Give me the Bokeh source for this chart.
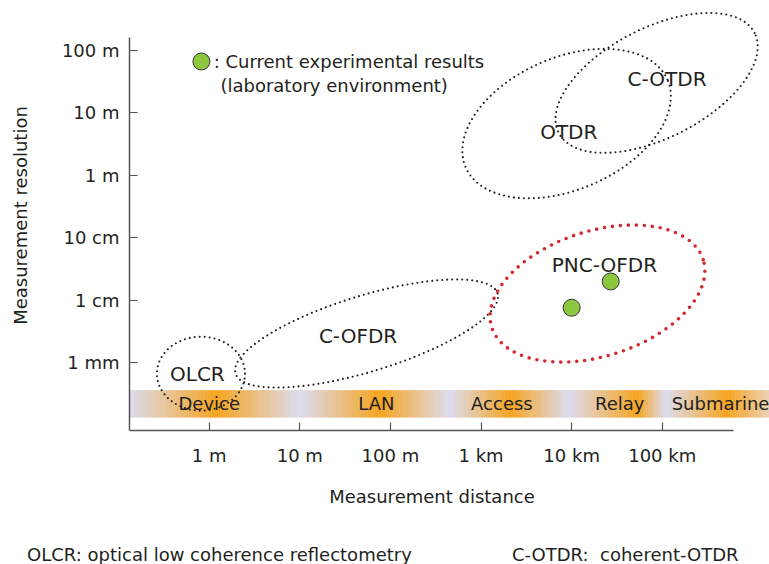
import numpy as np
from bokeh.plotting import figure
from bokeh.models import Range1d, FixedTicker, Div
from bokeh.layouts import column
from bokeh.core.properties import value
from bokeh.embed import file_html
from bokeh.resources import INLINE

# ---------------- data ----------------
X_TICKS = [1, 10, 100, 1e3, 1e4, 1e5]
X_TICK_LABELS = ["1 m", "10 m", "100 m", "1 km", "10 km", "100 km"]
Y_TICKS = [1e-3, 1e-2, 1e-1, 1, 10, 100]
Y_TICK_LABELS = ["1 mm", "1 cm", "10 cm", "1 m", "10 m", "100 m"]

BAND_CATEGORIES = ["Device", "LAN", "Access", "Relay", "Submarine"]
BAND_CATEGORY_DISTANCE = [1.0, 70, 1700, 34000, 440000]

TECH_NAMES = ["OLCR", "C-OFDR", "PNC-OFDR", "OTDR", "C-OTDR"]
TECH_CENTER_DISTANCE = [0.81, 54.5, 19300, 8800, 86700]
TECH_CENTER_RESOLUTION = [6.7e-4, 2.94e-3, 1.28e-2, 6.7, 30]
TECH_HALF_MAJOR_DEC = [0.486, 1.512, 1.225, 1.214, 1.214]
TECH_HALF_MINOR_DEC = [0.408, 0.419, 0.690, 0.728, 0.607]
TECH_TILT_DEG = [0, 17, 17.8, 23.5, 27]
TECH_LABEL_DISTANCE = [0.74, 43.9, 23000, 9300, 113000]
TECH_LABEL_RESOLUTION = [6.5e-4, 2.7e-3, 3.7e-2, 5.0, 34]
TECH_HIGHLIGHT = [False, False, True, False, False]

RESULT_DISTANCE = [10000, 27000]
RESULT_RESOLUTION = [0.0076, 0.020]

LEGEND_TEXT = [": Current experimental results", "(laboratory environment)"]
X_LABEL = "Measurement distance"
Y_LABEL = "Measurement resolution"
FOOTNOTES = ["OLCR: optical low coherence reflectometry", "C-OTDR:&nbsp; coherent-OTDR"]

# ---------------- style / layout ----------------
FONT = "DejaVu Sans"
TXT = "#231F20"
AX = "#555555"
GREEN = "#8DC63F"
RED = "#D7262E"
ORANGE = (246, 163, 28)
LAVENDER = (220, 220, 240)
END_PEACH = (236, 208, 182)

W, H = 769, 475
MB_L, MB_R, MB_T, MB_B = 129, 0, 0, 45
X_DEC = (-0.880, 6.184)
Y_DEC = (-4.083, 2.795)
X_AXIS_END_DEC = 5.784
Y_AXIS_END_DEC = 2.203
ASPECT = ((W - MB_L - MB_R) / (X_DEC[1] - X_DEC[0])) / ((H - MB_T - MB_B) / (Y_DEC[1] - Y_DEC[0]))

p = figure(width=W, height=H, x_axis_type="log", y_axis_type="log",
           x_range=Range1d(10 ** X_DEC[0], 10 ** X_DEC[1]),
           y_range=Range1d(10 ** Y_DEC[0], 10 ** Y_DEC[1]),
           output_backend="svg", toolbar_location=None,
           min_border_left=MB_L, min_border_right=MB_R,
           min_border_top=MB_T, min_border_bottom=MB_B)
p.grid.visible = False
p.outline_line_color = None
p.background_fill_color = "white"
p.border_fill_color = "white"

# ---- band (gradient) ----
BAND_TOP_DEC, BAND_BOT_DEC = -3.443, -3.870
stops_dec = [X_DEC[0], 0.09, 1.008, 1.89, 2.66, 3.33, 3.966, 4.73, 5.04, 5.72, X_DEC[1]]
stops_col = [LAVENDER, ORANGE, LAVENDER, ORANGE, LAVENDER, ORANGE, LAVENDER, ORANGE, LAVENDER, ORANGE, END_PEACH]
N = 360
edges = np.linspace(X_DEC[0], X_DEC[1], N + 1)
mids = 0.5 * (edges[:-1] + edges[1:])
cols = []
sd = np.array(stops_dec)
for m in mids:
    rgb = [np.interp(m, sd, [c[k] for c in stops_col]) for k in range(3)]
    cols.append("#%02x%02x%02x" % tuple(int(round(v)) for v in rgb))
p.quad(left=10 ** edges[:-1], right=10 ** edges[1:],
       bottom=[10 ** BAND_BOT_DEC] * N, top=[10 ** BAND_TOP_DEC] * N,
       fill_color=cols, line_color=cols, line_width=0.6)

band_y = 10 ** ((BAND_TOP_DEC + BAND_BOT_DEC) / 2)
p.text(x=BAND_CATEGORY_DISTANCE, y=[band_y] * len(BAND_CATEGORIES), text=BAND_CATEGORIES,
       text_font=value(FONT), text_font_size="18px", text_color=TXT,
       text_align="center", text_baseline="middle")

# ---- technology ellipses ----
t = np.linspace(0, 2 * np.pi, 900)
for i, name in enumerate(TECH_NAMES):
    th = np.radians(TECH_TILT_DEG[i])
    du = TECH_HALF_MAJOR_DEC[i] * np.cos(t)
    dv = TECH_HALF_MINOR_DEC[i] * np.sin(t)
    dx = du * np.cos(th) - dv * np.sin(th)
    dy = (du * np.sin(th) + dv * np.cos(th)) * ASPECT
    xs = 10 ** (np.log10(TECH_CENTER_DISTANCE[i]) + dx)
    ys = 10 ** (np.log10(TECH_CENTER_RESOLUTION[i]) + dy)
    if TECH_HIGHLIGHT[i]:
        p.line(xs, ys, line_color=RED, line_width=3.6, line_dash="0 8", line_cap="round")
    else:
        p.line(xs, ys, line_color=TXT, line_width=2.1, line_dash="0 5", line_cap="round")

p.text(x=TECH_LABEL_DISTANCE, y=TECH_LABEL_RESOLUTION, text=TECH_NAMES,
       text_font=value(FONT), text_font_size="20px", text_color=TXT,
       text_align="center", text_baseline="middle")

# ---- experimental results ----
p.scatter(RESULT_DISTANCE, RESULT_RESOLUTION, size=17, fill_color=GREEN,
          line_color="#333333", line_width=1)

# ---- legend ----
p.scatter([0.82], [66], size=17, fill_color=GREEN, line_color="#333333", line_width=1)
p.text(x=[1.12, 1.33], y=[66, 27], text=LEGEND_TEXT,
       text_font=value(FONT), text_font_size="18px", text_color=TXT,
       text_align="left", text_baseline="middle")

# ---- axes ----
xa, ya = p.xaxis[0], p.yaxis[0]
xa.ticker = FixedTicker(ticks=X_TICKS)
xa.major_label_overrides = {float(k): v for k, v in zip(X_TICKS, X_TICK_LABELS)}
ya.ticker = FixedTicker(ticks=Y_TICKS)
ya.major_label_overrides = {float(k): v for k, v in zip(Y_TICKS, Y_TICK_LABELS)}
ya.axis_label = Y_LABEL
xa.bounds = (10 ** X_DEC[0], 10 ** X_AXIS_END_DEC)
ya.bounds = (10 ** Y_DEC[0], 10 ** Y_AXIS_END_DEC)
for ax in (xa, ya):
    ax.axis_line_color = AX
    ax.axis_line_width = 1.5
    ax.major_tick_line_color = AX
    ax.major_tick_line_width = 1.2
    ax.major_tick_in = 8
    ax.major_tick_out = 0
    ax.minor_tick_line_color = None
    ax.major_label_text_font = FONT
    ax.major_label_text_font_size = "18px"
    ax.major_label_text_color = TXT
    ax.axis_label_text_font = FONT
    ax.axis_label_text_font_size = "18px"
    ax.axis_label_text_font_style = "normal"
    ax.axis_label_text_color = TXT
xa.major_label_standoff = 14
ya.major_label_standoff = 10
ya.axis_label_standoff = 28

# ---- x-axis title and footnotes (below the plot) ----
span = ("position:absolute;white-space:nowrap;line-height:18px;font-family:'DejaVu Sans';"
        "font-size:18px;color:%s;" % TXT)
html = (
    '<div style="position:relative;width:769px;height:89px;overflow:hidden;">'
    '<span style="%sleft:232px;width:400px;text-align:center;top:13px;">%s</span>'
    '<span style="%sleft:27px;top:71px;">%s</span>'
    '<span style="%sleft:512px;top:71px;">%s</span>'
    '</div>' % (span, X_LABEL, span, FOOTNOTES[0], span, FOOTNOTES[1])
)
below = Div(text=html, width=W, height=89, margin=0)

layout = column(p, below, spacing=0)
open("out.html", "w").write(file_html(layout, INLINE))
